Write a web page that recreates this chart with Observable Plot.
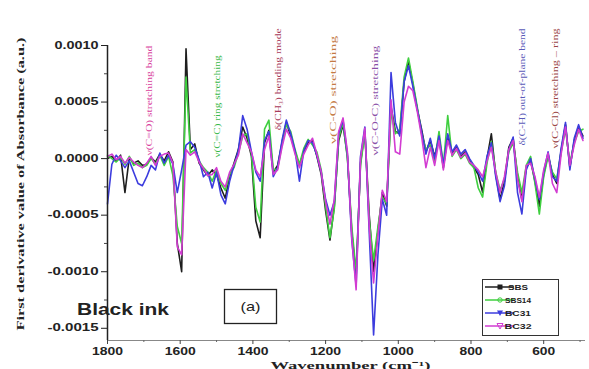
<!DOCTYPE html>
<html><head><meta charset="utf-8">
<script src="https://cdn.jsdelivr.net/npm/d3@7"></script>
<script src="https://cdn.jsdelivr.net/npm/@observablehq/plot@0.6"></script>
<style>html,body{margin:0;padding:0;background:#fff}#chart svg{display:block}</style>
</head><body><div id="chart"></div>
<script>
// Wavenumbers (cm^-1)
const wavenumbers = [1800,1788,1776,1764,1752,1740,1728,1716,1704,1692,1680,1668,1656,1644,1632,1620,1608,1596,1584,1572,1560,1548,1536,1524,1512,1500,1488,1476,1464,1452,1440,1428,1416,1404,1392,1380,1368,1356,1344,1332,1320,1308,1296,1284,1272,1260,1248,1236,1224,1212,1200,1188,1176,1164,1152,1140,1128,1116,1104,1092,1080,1068,1056,1044,1032,1020,1008,996,984,972,960,948,936,924,912,900,888,876,864,852,840,828,816,804,792,780,768,756,744,732,720,708,696,684,672,660,648,636,624,612,600,588,576,564,552,540,528,516,504,492];

// First derivative values, in units of 1e-4 a.u.
const sbs = [0,0.2,-0.2,0.3,-3,0.1,-0.4,-0.2,-0.6,-0.5,
 0.1,-0.3,0.4,-0.2,0.6,-0.3,-7.5,-10,9.7,0.8,
 1.3,-0.4,-1.0,-1.5,-1.0,-1.4,-2.6,-3.5,-1.6,-0.4,
 0.8,2.8,1.8,0.2,-5.5,-7.0,1.4,2.5,-1.2,-0.6,
 1.4,3.2,2.0,0.6,-0.6,0.6,1.4,1.6,0.2,-1.4,
 -4.6,-7.2,-4.2,1.6,3.0,0.2,-6.5,-10.4,-0.4,2.4,
 -5.0,-10.0,-6.4,-3.0,-4.2,4.6,2.4,2.2,6.8,8.6,
 6.6,4.4,2.6,0.6,1.6,0.2,1.8,-0.8,2.0,0.4,
 1.0,0.2,0.6,-0.2,-0.8,-1.4,-3.0,0.0,2.2,-1.4,
 -3.6,-2.0,1.0,1.8,-1.6,-3.6,-0.8,-0.2,-2.0,-4.2,
 -1.4,0.4,-1.4,-2.2,0.7,3.0,-0.8,1.6,2.8,2.0];
const sbs14 = [0.3,0,-0.3,0.1,-0.5,0.2,-0.6,-0.4,-0.8,-0.6,
 0,-0.5,0.3,-0.6,0.2,-1.5,-6,-7.5,7.2,0.5,
 0.8,-0.2,-0.8,-1.2,-2.0,-1.0,-2.2,-2.8,-1.4,-0.8,
 0.5,2.0,2.2,0.4,-4.3,-5.6,2.6,3.4,-1.0,-0.9,
 1.2,3.0,2.4,0.8,-0.5,0.9,1.7,1.2,0.6,-1.0,
 -4.2,-7.0,-4.4,1.8,3.2,0.0,-6.0,-10.0,-0.6,2.2,
 -5.4,-9.0,-6.0,-3.4,-4.0,4.2,2.2,2.6,7.2,8.9,
 6.8,4.6,2.2,0.8,1.2,-0.2,2.4,-0.6,3.8,0.2,
 0.8,0.0,0.4,-0.4,-0.8,-2.6,-3.4,-0.4,1.5,-1.2,
 -2.8,-1.8,0.6,1.4,-1.2,-3.0,-0.6,0.2,-2.2,-4.9,
 -1.6,0.2,-1.2,-1.8,0.6,2.6,-0.4,1.4,2.4,2.6];
const bc31 = [-4,-0.5,0.3,-0.2,-0.8,-0.2,-1.2,-2.2,-2.4,-1.6,
 -0.6,-1.0,0.5,-0.4,0.3,-0.5,-3,-1,1.2,1.5,
 1.0,-0.1,-1.6,-1.2,-2.6,-1.2,-3.2,-4.0,-2.0,-0.6,
 0.7,3.8,2.6,0.6,-1.2,-2.0,1.6,2.4,-1.6,-0.8,
 1.6,3.4,2.2,0.7,-2.0,0.7,1.6,1.4,0.3,-1.2,
 -3.6,-5.0,-3.8,2.2,3.4,0.4,-7.2,-11.2,0.2,2.8,
 -6.5,-15.6,-8.5,-3.6,-5.0,7.6,3.2,2.0,6.8,8.2,
 6.4,4.4,2.4,0.4,1.8,0.0,2.0,-0.6,2.2,0.6,
 1.2,0.4,0.8,0.0,-0.6,-1.2,-2.0,0.2,1.4,-1.6,
 -3.8,-2.4,0.8,1.9,-3.0,-4.9,-1.0,0.0,-1.8,-3.6,
 -1.2,0.6,-1.6,-2.0,0.9,3.2,-1.0,1.8,3.0,1.8];
const bc32 = [0.2,0.4,-0.1,0.2,-0.4,0.1,-0.3,-0.6,-0.8,-0.4,
 0.2,-0.6,0.2,0.4,0.5,-0.4,-7.8,-8.5,0.8,0.3,
 0.6,-0.3,-0.9,-1.5,-1.4,-0.8,-2.0,-2.5,-1.2,-0.5,
 0.3,2.2,1.4,0.6,-1.0,-1.6,0.8,2.0,-1.4,-1.0,
 1.0,2.6,1.8,0.4,-0.8,0.4,1.2,1.8,0.4,-1.2,
 -3.8,-5.8,-3.6,2.4,3.6,0.6,-7.0,-11.6,0.0,2.7,
 -6.0,-11.0,-6.8,-2.8,-3.8,5.2,0.6,0.4,5.0,6.4,
 6.0,4.2,2.0,-0.8,1.0,-0.6,1.6,-1.0,1.6,0.3,
 0.9,0.1,0.5,-0.3,-0.6,-1.0,-1.6,-0.2,1.0,-1.2,
 -3.0,-1.6,0.8,1.6,-1.8,-3.8,-0.6,-0.4,-1.6,-3.4,
 -1.0,0.5,-2.2,-3.0,0.4,2.8,-0.6,1.2,2.6,1.6];

const seriesNames = ["SBS","SBS14","BC31","BC32"];
const seriesColors = ["#1e1e1e","#3fcf3f","#3c3cde","#d23cd2"];

const xTicks = [1800,1600,1400,1200,1000,800,600];
const xMinor = [1700,1500,1300,1100,900,700,500];
const yTicks = [-0.0015,-0.0010,-0.0005,0,0.0005,0.0010];
const yMinor = [-0.00125,-0.00075,-0.00025,0.00025,0.00075];

// Band assignment annotations
const annotWn = [1684,1497,1331,1179,1063,658,567];
const annotText = ["ν(C=O) stretching band","ν(C=C) ring stretching","δ(CH₃) bending mode","ν(C-O) stretching","ν(C-O-C) stretching","δ(C-H) out-of-plane bend","ν(C-Cl) stretching – ring"];
const annotColor = ["#d8409c","#38b848","#a83a5a","#c47a44","#8a4fa8","#5a5ab8","#9a4646"];
const annotY = [0.000027,0.00001,0.00025,0.00013,0.000027,0.000115,0.00009];
const annotLen = [110,102,102,108,110,117,120];

const allSeries = [sbs, sbs14, bc31, bc32];
const rows = seriesNames.flatMap((s,k)=>wavenumbers.map((w,i)=>({series:s, wn:w, v:allSeries[k][i]*1e-4})));
const annots = annotWn.map((w,i)=>({wn:w, y:annotY[i], label:annotText[i], color:annotColor[i]}));

const yBottom = -0.001608;
const lines = seriesNames.map((s,k)=>Plot.line(rows.filter(r=>r.series===s),{x:"wn",y:"v",stroke:seriesColors[k],strokeWidth:1.6}));

const chart = Plot.plot({
  width:589, height:369, marginLeft:107, marginRight:4, marginTop:45, marginBottom:29,
  x:{domain:[1800,485]},
  y:{domain:[yBottom,0.0010]},
  color:{type:"identity"},
  style:{fontFamily:"Liberation Sans", background:"#fff", color:"#222"},
  marks:[
    ...lines,
    Plot.ruleX([1800],{stroke:"#222",strokeWidth:1.5}),
    Plot.ruleY([yBottom],{stroke:"#888",strokeWidth:1}),
    Plot.axisY(yTicks,{tickSize:6,tickPadding:3,tickFormat:d=>d.toFixed(4),label:null,fontWeight:"bold",fontSize:10,stroke:"#222"}),
    Plot.axisY(yMinor,{tickSize:3,tickFormat:()=>"",label:null,stroke:"#444"}),
    Plot.axisX(xTicks,{tickSize:4,tickPadding:3,tickFormat:d=>String(d),label:null,fontWeight:"bold",fontSize:10,stroke:"#444"}),
    Plot.axisX(xMinor.filter(d=>d>=485),{tickSize:2,tickFormat:()=>"",label:null,stroke:"#666"}),
    Plot.text(annots,{x:"wn",y:"y",text:"label",fill:"color",rotate:-90,textAnchor:"start",fontSize:8,fontFamily:"Liberation Serif"}),
    Plot.text(["First derivative value of Absorbance (a.u.)"],{frameAnchor:"left",textAnchor:"middle",dx:-87,dy:-9,rotate:-90,fontWeight:"bold",fontSize:11,fontFamily:"Liberation Serif",fill:"#222"}),
    Plot.text(["Wavenumber (cm⁻¹)"],{frameAnchor:"bottom",textAnchor:"middle",dx:4,dy:28,lineAnchor:"bottom",fontWeight:"bold",fontSize:11,fontFamily:"Liberation Serif",fill:"#222"})
  ]
});
document.getElementById("chart").appendChild(chart);

const svg = d3.select(chart);
svg.selectAll("text").each(function(){
  const t = this.textContent; const el = d3.select(this);
  if (/^-?\d\.\d{4}$/.test(t)) el.attr("textLength", t.length===7?51:44).attr("lengthAdjust","spacingAndGlyphs");
  else if (/^\d{3,4}$/.test(t)) el.attr("textLength", t.length===4?31:23).attr("lengthAdjust","spacingAndGlyphs");
  else if (t.startsWith("First derivative")) el.attr("textLength",293).attr("lengthAdjust","spacingAndGlyphs");
  else if (t.startsWith("Wavenumber")) el.attr("textLength",160).attr("lengthAdjust","spacingAndGlyphs");
  else { const k = annotText.indexOf(t); if (k>=0) el.attr("textLength",annotLen[k]).attr("lengthAdjust","spacingAndGlyphs"); }
});

// "Black ink" and "(a)" labels
const g = svg.append("g").attr("font-family","Liberation Sans");
g.append("text").attr("x",123).attr("y",315).attr("font-size",17).attr("font-weight","bold").attr("fill","#222")
  .attr("textLength",92).attr("lengthAdjust","spacingAndGlyphs").text("Black ink");
g.append("rect").attr("x",224.5).attr("y",289.5).attr("width",52).attr("height",34).attr("fill","none").attr("stroke","#222").attr("stroke-width",1.3);
g.append("text").attr("x",250.5).attr("y",311).attr("text-anchor","middle").attr("font-size",13).attr("fill","#222")
  .attr("textLength",20).attr("lengthAdjust","spacingAndGlyphs").text("(a)");

// Legend
const lg = svg.append("g").attr("font-family","Liberation Sans");
lg.append("rect").attr("x",482.5).attr("y",279.5).attr("width",76).attr("height",56).attr("fill","#fff").attr("stroke","#333");
const rowY = [287,300,313,326];
const legLen = [20,26,26,27];
seriesNames.forEach((s,k)=>{
  const yy = rowY[k], c = seriesColors[k];
  lg.append("line").attr("x1",485).attr("x2",514).attr("y1",yy).attr("y2",yy).attr("stroke",c).attr("stroke-width",1.5);
  if (k===0) lg.append("rect").attr("x",497.5).attr("y",yy-2.5).attr("width",5).attr("height",5).attr("fill",c);
  else if (k===1) lg.append("circle").attr("cx",500).attr("cy",yy).attr("r",2.2).attr("fill","none").attr("stroke",c);
  else if (k===2) lg.append("path").attr("d",`M497,${yy-2.5}L503,${yy-2.5}L500,${yy+3}Z`).attr("fill",c);
  else lg.append("path").attr("d",`M497,${yy-2.5}L503,${yy-2.5}L500,${yy+3}Z`).attr("fill","none").attr("stroke",c);
  lg.append("text").attr("x",518).attr("y",yy+3).attr("font-size",8).attr("font-weight","bold").attr("fill","#222")
    .attr("textLength",legLen[k]).attr("lengthAdjust","spacingAndGlyphs").text(s);
});
</script>
</body></html>
